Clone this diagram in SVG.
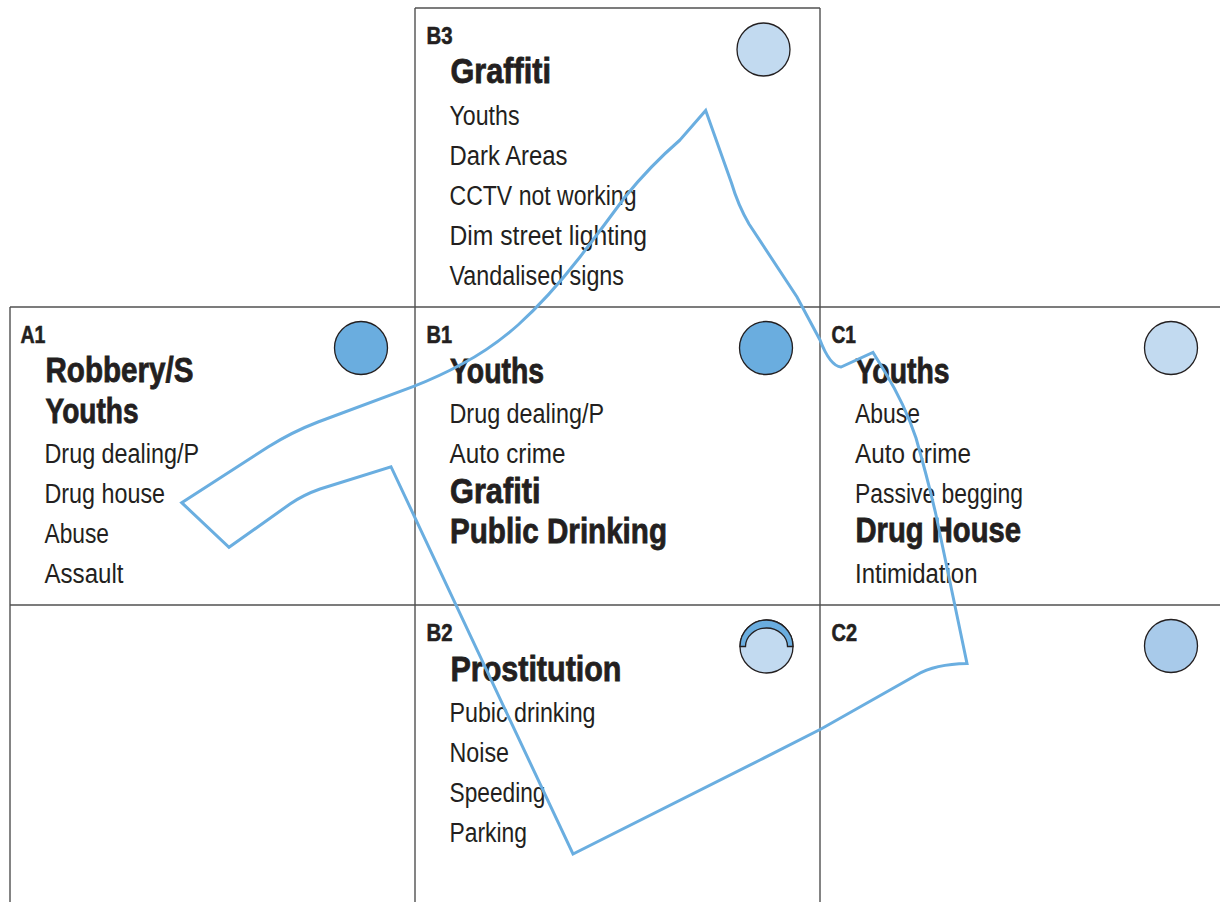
<svg xmlns="http://www.w3.org/2000/svg" width="1220" height="902" viewBox="0 0 1220 902">
<style>
.grid{stroke:#505050;stroke-width:1.4;fill:none}
.dot{stroke:#231f20;stroke-width:1.3}
.dark{fill:#6aaddf}
.light{fill:#c2daf0}
.mid{fill:#a8caea}
.lbl{font-family:"Liberation Sans",Arial,sans-serif;font-weight:bold;font-size:24.5px;fill:#231f20;stroke:#231f20;stroke-width:0.6}
.hd{font-family:"Liberation Sans",Arial,sans-serif;font-weight:bold;font-size:35px;fill:#231f20;stroke:#231f20;stroke-width:0.8}
.it{font-family:"Liberation Sans",Arial,sans-serif;font-size:27px;fill:#231f20}
.zone{fill:none;stroke:#6aaee0;stroke-width:3;stroke-linejoin:miter}
</style>
<rect width="1220" height="902" fill="#ffffff"/>
<g id="grid" class="grid">
<line x1="415" y1="8" x2="820" y2="8"/>
<line x1="10" y1="307" x2="1220" y2="307"/>
<line x1="10" y1="605" x2="1220" y2="605"/>
<line x1="10" y1="307" x2="10" y2="902"/>
<line x1="415" y1="8" x2="415" y2="902"/>
<line x1="820" y1="8" x2="820" y2="902"/>
</g>
<g id="B3">
<circle class="dot light" cx="763.5" cy="49.5" r="26.5"/>
<text class="lbl" x="426.5" y="44.3" textLength="26" lengthAdjust="spacingAndGlyphs">B3</text>
<text class="hd" x="450.5" y="83.3" textLength="100.5" lengthAdjust="spacingAndGlyphs">Graffiti</text>
<text class="it" x="449.5" y="125" textLength="70" lengthAdjust="spacingAndGlyphs">Youths</text>
<text class="it" x="449.5" y="165" textLength="118" lengthAdjust="spacingAndGlyphs">Dark Areas</text>
<text class="it" x="449.5" y="205" textLength="187" lengthAdjust="spacingAndGlyphs">CCTV not working</text>
<text class="it" x="449.5" y="245" textLength="197.5" lengthAdjust="spacingAndGlyphs">Dim street lighting</text>
<text class="it" x="449.5" y="285" textLength="174.5" lengthAdjust="spacingAndGlyphs">Vandalised signs</text>
</g>
<g id="A1">
<circle class="dot dark" cx="361" cy="348" r="26.5"/>
<text class="lbl" x="20.5" y="342.7" textLength="25" lengthAdjust="spacingAndGlyphs">A1</text>
<text class="hd" x="45.5" y="381.7" textLength="148" lengthAdjust="spacingAndGlyphs">Robbery/S</text>
<text class="hd" x="45.5" y="422.7" textLength="93" lengthAdjust="spacingAndGlyphs">Youths</text>
<text class="it" x="44.5" y="462.7" textLength="154.5" lengthAdjust="spacingAndGlyphs">Drug dealing/P</text>
<text class="it" x="44.5" y="502.7" textLength="120.5" lengthAdjust="spacingAndGlyphs">Drug house</text>
<text class="it" x="44.5" y="542.7" textLength="64.5" lengthAdjust="spacingAndGlyphs">Abuse</text>
<text class="it" x="44.5" y="582.7" textLength="79" lengthAdjust="spacingAndGlyphs">Assault</text>
</g>
<g id="B1">
<circle class="dot dark" cx="766" cy="348" r="26.5"/>
<text class="lbl" x="426.5" y="342.7" textLength="25.5" lengthAdjust="spacingAndGlyphs">B1</text>
<text class="hd" x="450" y="382.7" textLength="94" lengthAdjust="spacingAndGlyphs">Youths</text>
<text class="it" x="449.5" y="422.7" textLength="154.5" lengthAdjust="spacingAndGlyphs">Drug dealing/P</text>
<text class="it" x="449.5" y="462.7" textLength="116" lengthAdjust="spacingAndGlyphs">Auto crime</text>
<text class="hd" x="450" y="502.7" textLength="90.5" lengthAdjust="spacingAndGlyphs">Grafiti</text>
<text class="hd" x="450" y="542.7" textLength="217" lengthAdjust="spacingAndGlyphs">Public Drinking</text>
</g>
<g id="C1">
<circle class="dot light" cx="1171" cy="348" r="26.5"/>
<text class="lbl" x="831.5" y="342.7" textLength="24.5" lengthAdjust="spacingAndGlyphs">C1</text>
<text class="hd" x="855.5" y="382.7" textLength="94" lengthAdjust="spacingAndGlyphs">Youths</text>
<text class="it" x="855" y="422.7" textLength="65" lengthAdjust="spacingAndGlyphs">Abuse</text>
<text class="it" x="855" y="462.7" textLength="116" lengthAdjust="spacingAndGlyphs">Auto crime</text>
<text class="it" x="855" y="502.7" textLength="168" lengthAdjust="spacingAndGlyphs">Passive begging</text>
<text class="hd" x="855.5" y="541.7" textLength="165.5" lengthAdjust="spacingAndGlyphs">Drug House</text>
<text class="it" x="855" y="582.7" textLength="122.5" lengthAdjust="spacingAndGlyphs">Intimidation</text>
</g>
<g id="B2">
<circle class="dot light" cx="766.5" cy="646.5" r="26.5"/>
<path class="dot dark" d="M740,646.5 A26.5,26.5 0 0 1 793,646.5 L787.5,646.5 A21,18.5 0 0 0 745.5,646.5 Z"/>
<text class="lbl" x="426.5" y="640.7" textLength="26" lengthAdjust="spacingAndGlyphs">B2</text>
<text class="hd" x="450.5" y="680.7" textLength="171" lengthAdjust="spacingAndGlyphs">Prostitution</text>
<text class="it" x="449.5" y="721.7" textLength="146" lengthAdjust="spacingAndGlyphs">Pubic drinking</text>
<text class="it" x="449.5" y="761.7" textLength="59.5" lengthAdjust="spacingAndGlyphs">Noise</text>
<text class="it" x="449.5" y="801.7" textLength="96" lengthAdjust="spacingAndGlyphs">Speeding</text>
<text class="it" x="449.5" y="841.7" textLength="77.5" lengthAdjust="spacingAndGlyphs">Parking</text>
</g>
<g id="C2">
<circle class="dot mid" cx="1171" cy="646" r="26.5"/>
<text class="lbl" x="831.5" y="641" textLength="25.5" lengthAdjust="spacingAndGlyphs">C2</text>
</g>
<g id="connectors">
<path class="zone" d="M705.7,110.5 L731.5,183 Q738,205 749,224 L797,297 L820,340 Q830,366 841,367 L873,352.5 L885,372 Q905,405 916,438 Q928,480 936,515 L967,663.5 Q935,664 916.5,675 L821,729 L760,760 L573,854 L391,466.7 L320,489 Q303,495 290,504 L229,547.3 L181.7,502.7 L268,447 Q292,432 318,422 L413,386.7 Q440,376 462,364 Q492,348 518,325 Q548,298 580,257 Q603,227 625,197 Q650,166 680,140 Z"/>
</g>
</svg>
